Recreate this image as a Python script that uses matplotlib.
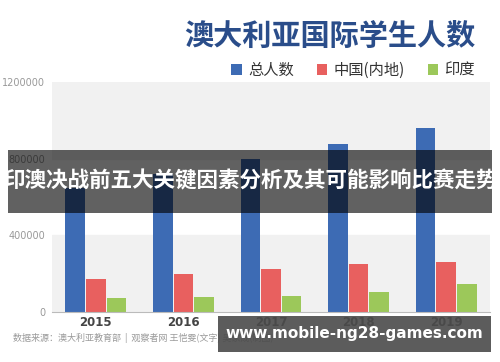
import numpy as np
import matplotlib
matplotlib.use('Agg')
from matplotlib import pyplot as plt
from matplotlib.patches import Rectangle

plt.rcParams['font.family'] = ['Noto Sans CJK SC', 'DejaVu Sans']

# data
years = ['2015', '2016', '2017', '2018', '2019']
total = [645000, 720000, 800000, 878000, 958000]
china = [172000, 198000, 226000, 253000, 262000]
india = [74000, 76000, 85000, 106000, 145000]
series_names = ['总人数', '中国(内地)', '印度']
y_ticks = [0, 400000, 800000, 1200000]

colors = ['#3d6bb4', '#e8605f', '#9cc85a']

fig = plt.figure(figsize=(5, 3.62), dpi=100)
ax = fig.add_axes([0.104, 0.138, 0.876, 0.636])

# alternating background bands
for i in range(len(y_ticks) - 1):
    if i % 2 == 0:
        ax.axhspan(y_ticks[i], y_ticks[i + 1], color='#f1f1f1', zorder=0)

x = np.arange(len(years))
w = 0.225
bars = []
for k, vals in enumerate([total, china, india]):
    b = ax.bar(x + (k - 1) * (w + 0.01), vals, width=w, color=colors[k],
               label=series_names[k], zorder=2)
    bars.append(b)

ax.set_xlim(-0.5, 4.5)
ax.set_ylim(0, 1200000)
ax.set_yticks(y_ticks)
ax.set_yticklabels([str(t) for t in y_ticks], color='#999999', fontsize=7,
                   family='DejaVu Sans')
ax.set_xticks(x)
ax.set_xticklabels(years, fontsize=8.5, fontweight='bold', color='#444444',
                   family='DejaVu Sans')
ax.tick_params(length=0, pad=3)
ax.tick_params(axis='y', pad=5)
for s in ['top', 'right', 'left']:
    ax.spines[s].set_visible(False)
ax.spines['bottom'].set_color('#bbbbbb')

# title and legend
fig.text(0.66, 0.9, '澳大利亚国际学生人数', fontsize=21, fontweight='bold',
         color='#2a4d8a', ha='center', va='center')
fig.legend(handles=bars, labels=series_names, ncol=3, loc='center right',
           bbox_to_anchor=(0.962, 0.805), frameon=False, fontsize=11,
           handlelength=0.7, handleheight=0.7, handletextpad=0.4,
           columnspacing=1.5, borderaxespad=0, labelcolor='#333333')

fig.text(0.026, 0.066, '数据来源：澳大利亚教育部  |  观察者网 王恺雯(文字) 吴家成(制图)',
         fontsize=6.5, color='#9a9a9a', ha='left', va='center')

# headline overlay band
fig.patches.append(Rectangle((0.016, 0.412), 0.968, 0.174,
                             transform=fig.transFigure, facecolor='black',
                             linewidth=0, alpha=0.62, zorder=5))
fig.text(0.5, 0.5, '印澳决战前五大关键因素分析及其可能影响比赛走势',
         fontsize=15.5, fontweight='bold', color='white', ha='center',
         va='center', zorder=6)

# watermark box
fig.patches.append(Rectangle((0.436, 0.028), 0.546, 0.099,
                             transform=fig.transFigure, facecolor='#4a4a4a',
                             linewidth=0, alpha=0.9, zorder=5))
fig.text(0.709, 0.078, 'www.mobile-ng28-games.com', fontsize=11,
         fontweight='bold', color='white', ha='center', va='center',
         family='DejaVu Sans', zorder=6)

fig.savefig('out.png', dpi=100)
